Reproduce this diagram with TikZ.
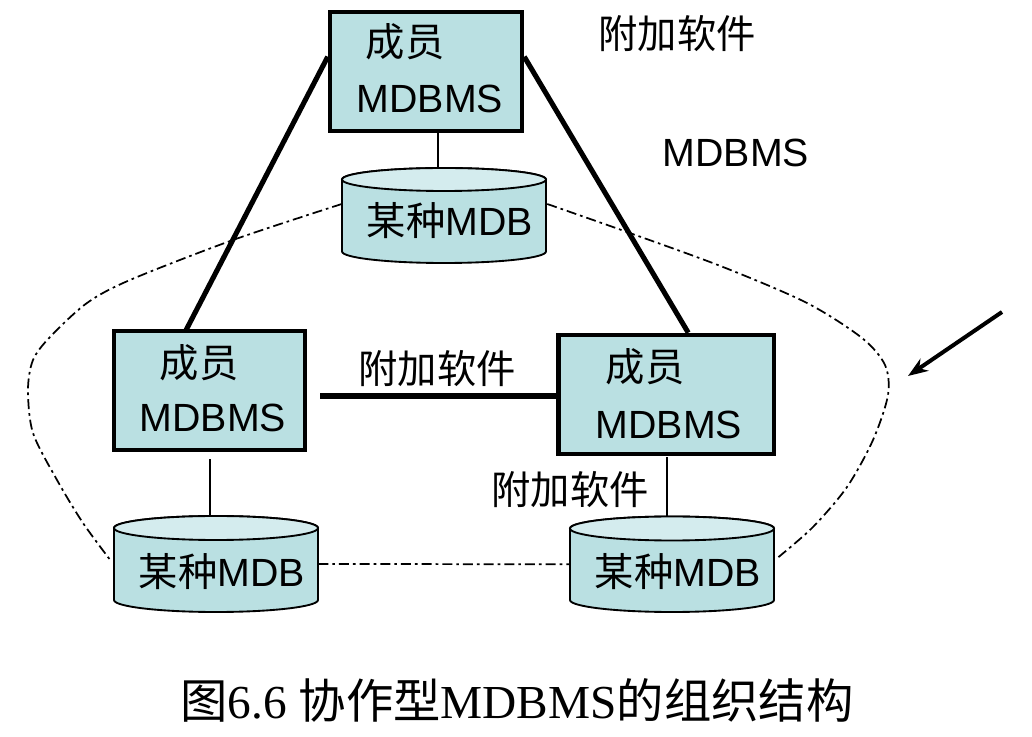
\documentclass[tikz,border=0pt]{standalone}
\usepackage{fontspec}
\setmainfont{Liberation Sans}
\newfontfamily\cjk{Noto Sans CJK SC}
\newfontfamily\capserif{Liberation Serif}
\usetikzlibrary{calc,arrows.meta,backgrounds}
\definecolor{boxfill}{RGB}{186,224,226}
\definecolor{topfill}{RGB}{212,236,238}
\tikzset{
  mbox/.style={draw, line width=3.4pt, fill=boxfill, rectangle, inner sep=0pt},
  lbl/.style={font=\fontsize{29.5}{34}\selectfont, inner sep=0pt},
  captext/.style={font=\fontsize{35.5}{40}\selectfont, inner sep=0pt},
  cylbody/.style={draw, line width=1.4pt, fill=boxfill},
  cyltop/.style={draw, line width=1.4pt, fill=topfill},
  cylnode/.style={rectangle, inner sep=0pt},
  thickline/.style={line width=3.8pt},
  thinline/.style={line width=1.2pt},
  dashdot/.style={line width=1.3pt, dash pattern=on 7.5pt off 3pt on 2pt off 3pt},
}
% name, L, R, ytop-centre, ybottom-centre, ry
\newcommand\dbcyl[6]{%
  \path[cylbody] (#2,#4) -- (#2,#5)
     arc[start angle=180,end angle=0,x radius={(#3-#2)/2},y radius=#6]
     -- (#3,#4)
     arc[start angle=0,end angle=-180,x radius={(#3-#2)/2},y radius=#6] -- cycle;
  \path[cyltop] ({(#2+#3)/2},#4) ellipse[x radius={(#3-#2)/2},y radius=#6];
  \node[cylnode, minimum width={(#3-#2)*0.75pt}, minimum height={(#5-#4+2*#6)*0.75pt}]
     (#1) at ({(#2+#3)/2},{(#4+#5)/2}) {};
}
\begin{document}
\begin{tikzpicture}[x=0.75pt,y=-0.75pt]
\useasboundingbox (0,0) rectangle (1032,737);

% boxes
\node[mbox, minimum width=144pt, minimum height=89.25pt] (topbox) at (426,71.5) {};
\node[mbox, minimum width=143.25pt, minimum height=89.25pt] (leftbox) at (209.5,390.5) {};
\node[mbox, minimum width=161.6pt, minimum height=89.25pt] (rightbox) at (666.25,394.5) {};

\node[lbl] (tb1) at (405,42) {\cjk 成员};
\node[lbl] (tb2) at (430,99) {MDBMS};
\node[lbl] (lb1) at (199,363) {\cjk 成员};
\node[lbl] (lb2) at (213,418) {MDBMS};
\node[lbl] (rb1) at (645,367) {\cjk 成员};
\node[lbl] (rb2) at (669,425) {MDBMS};

% cylinders
\dbcyl{topcyl}{342}{546}{179.5}{251.5}{11.5}
\dbcyl{leftcyl}{114}{318}{528}{600}{12}
\dbcyl{rightcyl}{570}{774}{528.5}{600}{12}

\node[lbl] (tc) at (450,221) {{\cjk 某种}MDB};
\node[lbl] (lc) at (222,572) {{\cjk 某种}MDB};
\node[lbl] (rc) at (678,572) {{\cjk 某种}MDB};

% free labels
\node[lbl] (sw1) at (677,34) {\cjk 附加软件};
\node[lbl] (mdbms) at (736,153) {MDBMS};
\node[lbl] (sw2) at (437,369) {\cjk 附加软件};
\node[lbl] (sw3) at (570,490) {\cjk 附加软件};

% caption
\node[captext] (caption) at (517,700) {{\cjk 图}{\capserif 6.6 }{\cjk 协作型}{\capserif MDBMS}{\cjk 的组织结构}};

\begin{scope}[on background layer]
  \draw[thickline] ($(topbox.north west)+(0,47)$) -- ($(leftbox.north west)+(74,2)$);
  \draw[thickline] ($(topbox.north east)+(0,47)$) -- ($(rightbox.north west)+(132,0)$);
  \draw[thickline] ($(leftbox.east)+(13,5.5)$) -- ($(rightbox.west)+(0,1.5)$);
\end{scope}

\draw[thinline] ($(topbox.south)+(12,0)$) coordinate (c1) -- (c1 |- topcyl.north);
\draw[thinline] ($(leftbox.south)+(0.5,7)$) coordinate (c2) -- (c2 |- leftcyl.north);
\draw[thinline] ($(rightbox.south)+(0.5,1)$) coordinate (c3) -- (c3 |- rightcyl.north);

% dash-dot boundary
\coordinate (l0) at ($(topcyl.west)+(0,-11.5)$);
\coordinate (r0) at ($(topcyl.east)+(1,-11.5)$);
\coordinate (le) at ($(leftcyl.west)+(-2,-2)$);
\coordinate (re) at ($(rightcyl.east)+(4,-7)$);
\draw[dashdot] plot[smooth] coordinates {(l0) (233,240) (130,280) (87,303) (50,337) (33,360) (28,390) (33,433) (57,480) (83,523) (le)};
\draw[dashdot] plot[smooth] coordinates {(r0) (627,232) (723,267) (807,303) (862,338) (885,365) (888,395) (873,440) (847,487) (813,527) (re)};
\draw[dashdot] (leftcyl.east) -- (rightcyl.west);

% arrow
\coordinate (arrS) at (1002,312);
\coordinate (arrE) at (908,376);
\draw[line width=3pt, -{Stealth[length=15pt,width=11pt]}] (arrS) -- (arrE);
\end{tikzpicture}
\end{document}
